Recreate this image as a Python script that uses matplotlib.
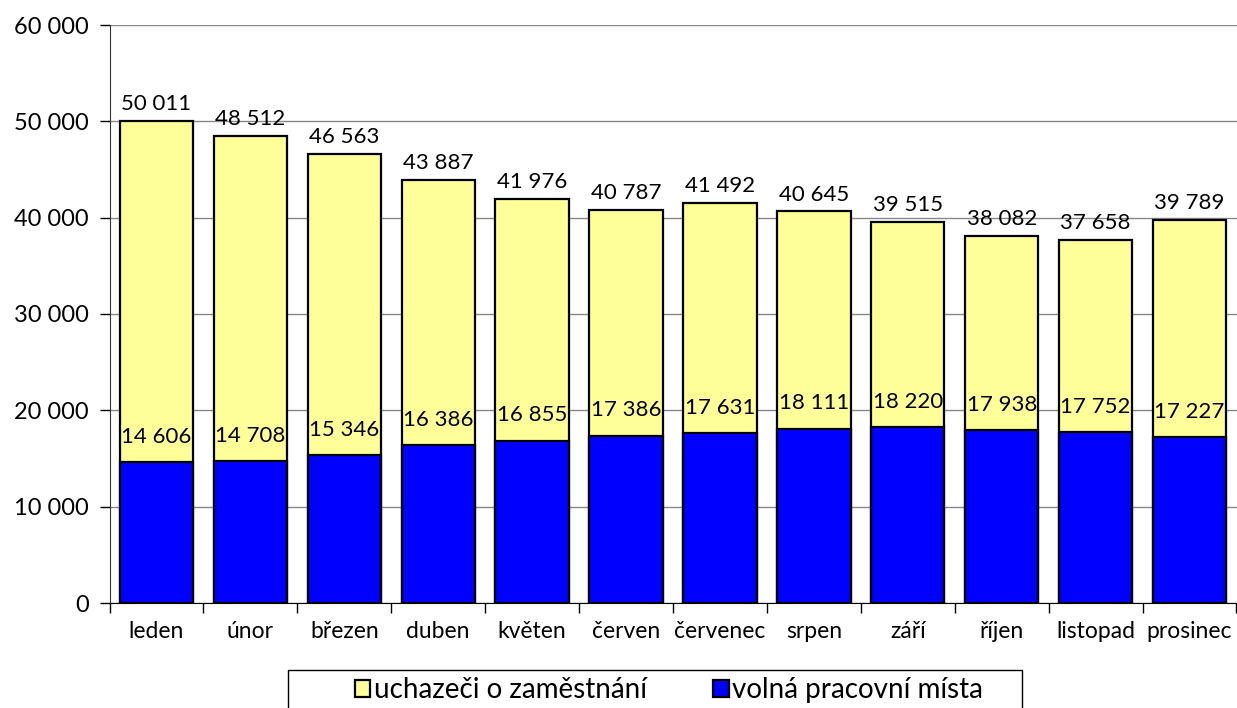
import numpy as np
import matplotlib.pyplot as plt
from matplotlib.patches import Rectangle

plt.rcParams['font.family'] = ['Lato', 'DejaVu Sans']

mesice = ["leden", "únor", "březen", "duben", "květen", "červen", "červenec",
          "srpen", "září", "říjen", "listopad", "prosinec"]
uchazeci = [50011, 48512, 46563, 43887, 41976, 40787, 41492, 40645, 39515, 38082, 37658, 39789]
volna_mista = [14606, 14708, 15346, 16386, 16855, 17386, 17631, 18111, 18220, 17938, 17752, 17227]

def fmt(v):
    return f"{v:,}".replace(",", " ")

W, H = 1237, 708
fig = plt.figure(figsize=(W / 100, H / 100), dpi=100)
ax = fig.add_axes([109.5 / W, (H - 603) / H, 1127 / W, 578 / H])

x = np.arange(len(mesice))
w = 0.78
b1 = ax.bar(x, uchazeci, w, color="#FFFF99", edgecolor="black", linewidth=1.6,
            label="uchazeči o zaměstnání", zorder=2)
b2 = ax.bar(x, volna_mista, w, color="#0000FF", edgecolor="black", linewidth=1.6,
            label="volná pracovní místa", zorder=3)

for xi, v in zip(x, uchazeci):
    ax.annotate(fmt(v), (xi, v), xytext=(0, 5), textcoords="offset points",
                ha="center", va="bottom", fontsize=16, zorder=4)
for xi, v in zip(x, volna_mista):
    ax.annotate(fmt(v), (xi, v), xytext=(0, 11), textcoords="offset points",
                ha="center", va="bottom", fontsize=16, zorder=4)

ax.set_xlim(-0.5, len(mesice) - 0.5)
ax.set_ylim(0, 60000)
ax.set_yticks(range(0, 60001, 10000))
ax.set_yticklabels([fmt(v) for v in range(0, 60001, 10000)], fontsize=17)
ax.yaxis.grid(True, color="#888888", linewidth=1, zorder=0)
ax.set_axisbelow(True)

ax.set_xticks(x)
ax.set_xticklabels(mesice, fontsize=16.5)
ax.tick_params(axis="x", length=0, pad=13)
ax.set_xticks(np.arange(-0.5, len(mesice)), minor=True)
ax.tick_params(axis="x", which="minor", length=7, width=1, direction="out")
ax.tick_params(axis="y", length=7, width=1, direction="out", pad=8)

for s in ["top", "right"]:
    ax.spines[s].set_visible(False)
ax.spines["left"].set_color("#333333")
ax.spines["bottom"].set_color("black")

# legend frame, cut by the bottom edge as in the original
fig.patches.append(Rectangle((288 / W, -0.01), (1022 - 288) / W, (H - 670) / H + 0.01,
                             transform=fig.transFigure, facecolor="white",
                             edgecolor="black", linewidth=1, zorder=1))
leg = fig.legend(handles=[b1, b2], loc="center left",
                 bbox_to_anchor=(355 / W, (H - 690) / H),
                 ncol=2, fontsize=20, frameon=False, borderpad=0, borderaxespad=0,
                 handlelength=0.55, handleheight=0.55, handletextpad=0.12,
                 columnspacing=2.4)
leg.set_zorder(2)

fig.savefig("out.png", dpi=100)
